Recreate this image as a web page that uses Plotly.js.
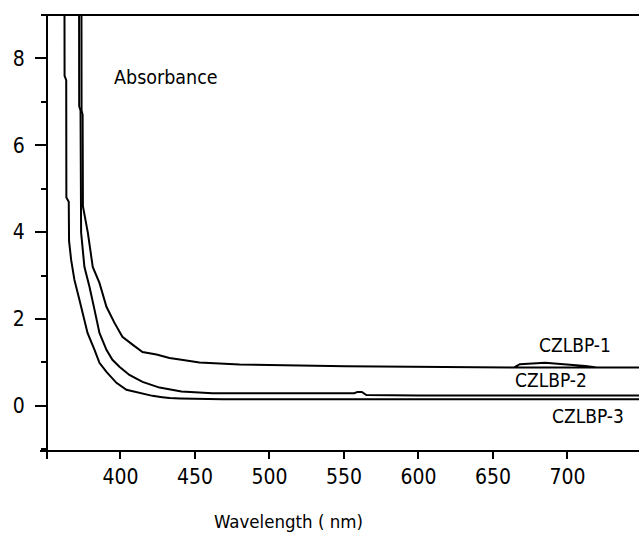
<!DOCTYPE html>
<html>
<head>
<meta charset="utf-8">
<script src="https://cdn.plot.ly/plotly-3.0.1.min.js"></script>
<style>
  html, body { margin: 0; padding: 0; background: #ffffff; }
  #chart { width: 639px; height: 536px; }
</style>
</head>
<body>
<div id="chart"></div>
<script>
// ---- Data (wavelength in nm, absorbance) ----
const seriesNames = ["CZLBP-1", "CZLBP-2", "CZLBP-3"];

const wl1 = [373.8, 373.9, 374.6, 374.8, 378.1, 381.4, 385.9, 390.6, 396.0, 401.3, 408.1, 414.8, 424.2, 432.9, 440.9, 453.0, 479.9, 551.0, 664.0, 721.0, 712.0, 700.0, 685.0, 668.0, 664.0, 721.0, 748.0];
const ab1 = [10.0, 6.8, 6.7, 4.6, 3.99, 3.20, 2.83, 2.28, 1.91, 1.59, 1.41, 1.24, 1.18, 1.10, 1.06, 1.00, 0.95, 0.91, 0.88, 0.88, 0.92, 0.95, 0.99, 0.96, 0.88, 0.88, 0.88];

const wl2 = [372.2, 372.3, 373.2, 373.3, 373.6, 375.8, 379.2, 382.6, 385.9, 390.6, 394.6, 399.3, 406.0, 414.8, 426.2, 440.9, 461.7, 557.0, 559.0, 562.0, 565.0, 600.0, 748.0];
const ab2 = [10.0, 6.9, 6.8, 4.6, 3.99, 3.20, 2.74, 2.21, 1.68, 1.29, 1.06, 0.90, 0.71, 0.55, 0.42, 0.33, 0.29, 0.29, 0.32, 0.32, 0.25, 0.24, 0.24];

const wl3 = [362.4, 362.5, 363.6, 363.7, 365.3, 365.5, 366.9, 369.1, 372.5, 375.8, 377.9, 382.6, 385.9, 390.6, 397.3, 404.0, 412.8, 421.5, 428.0, 433.0, 440.0, 468.5, 600.0, 748.0];
const ab3 = [10.0, 7.6, 7.5, 4.8, 4.7, 3.8, 3.36, 2.90, 2.44, 1.98, 1.68, 1.29, 0.99, 0.78, 0.53, 0.37, 0.30, 0.23, 0.20, 0.18, 0.17, 0.15, 0.15, 0.15];

const xTickVals = [400, 450, 500, 550, 600, 650, 700];
const yTickVals = [0, 2, 4, 6, 8];

// label anchor points (data coordinates)
const labelX = [705.0, 689.0, 714.0];
const labelY = [1.40, 0.60, -0.24];

// ---- Layout constants ----
const W = 639, H = 536;
const M = {l: 47, r: 0, t: 15, b: 85};
const plotW = W - M.l - M.r, plotH = H - M.t - M.b;
const FONT = '"Liberation Sans Narrow", "Arial Narrow", "DejaVu Sans Condensed", sans-serif';

const lineStyle = {color: '#000000', width: 2};
const traces = [
  {x: wl1, y: ab1, name: seriesNames[0], mode: 'lines', line: lineStyle},
  {x: wl2, y: ab2, name: seriesNames[1], mode: 'lines', line: lineStyle},
  {x: wl3, y: ab3, name: seriesNames[2], mode: 'lines', line: lineStyle}
];

const ovL = 6 / plotW;   // overhang of frame lines to the left
const ovB = 8 / plotH;   // overhang of y axis line below

const shapes = [
  {type: 'line', xref: 'paper', yref: 'paper', x0: -ovL, x1: 1, y0: 1, y1: 1, line: {color: '#000', width: 2}},
  {type: 'line', xref: 'paper', yref: 'paper', x0: 0, x1: 0, y0: -ovB, y1: 1, line: {color: '#000', width: 2}},
  {type: 'line', xref: 'paper', yref: 'paper', x0: -ovL - 1/plotW, x1: 1, y0: 0, y1: 0, line: {color: '#000', width: 2}}
];

const annotations = seriesNames.map((n, i) => ({
  text: n, x: labelX[i], y: labelY[i], xref: 'x', yref: 'y',
  showarrow: false, xanchor: 'center', yanchor: 'middle',
  font: {family: FONT, size: 19, color: '#000'}
}));
annotations.push({
  text: 'Absorbance', x: (166 - M.l) / plotW, y: (H - M.b - 78) / plotH,
  xref: 'paper', yref: 'paper', showarrow: false, xanchor: 'center', yanchor: 'middle',
  font: {family: FONT, size: 19.5, color: '#000'}
});
annotations.push({
  text: 'Wavelength ( nm)', x: (288 - M.l) / plotW, y: (H - M.b - 521) / plotH,
  xref: 'paper', yref: 'paper', showarrow: false, xanchor: 'center', yanchor: 'middle',
  font: {family: FONT, size: 18.5, color: '#000'}
});

const layout = {
  width: W, height: H,
  margin: M,
  paper_bgcolor: '#ffffff', plot_bgcolor: '#ffffff',
  showlegend: false,
  font: {family: FONT, color: '#000'},
  xaxis: {
    range: [350.7, 748.0], showgrid: false, zeroline: false, showline: false,
    tickmode: 'array', tickvals: xTickVals, ticktext: xTickVals.map(String),
    ticks: 'outside', ticklen: 7, tickwidth: 2, tickcolor: '#000',
    ticklabelstandoff: 0,
    tickfont: {family: FONT, size: 21, color: '#000'}
  },
  yaxis: {
    range: [-1.04, 9.0], showgrid: false, zeroline: false, showline: false,
    tickmode: 'array', tickvals: yTickVals, ticktext: yTickVals.map(String),
    ticks: 'outside', ticklen: 11, tickwidth: 2, tickcolor: '#000',
    ticklabelstandoff: 6,
    tickfont: {family: FONT, size: 21, color: '#000'},
    minor: {tickmode: 'array', tickvals: [-1, 1, 3, 5, 7], ticks: 'outside', ticklen: 5, tickwidth: 2, tickcolor: '#000', showgrid: false}
  },
  shapes: shapes,
  annotations: annotations
};

Plotly.newPlot('chart', traces, layout, {staticPlot: true, displayModeBar: false});
</script>
</body>
</html>
